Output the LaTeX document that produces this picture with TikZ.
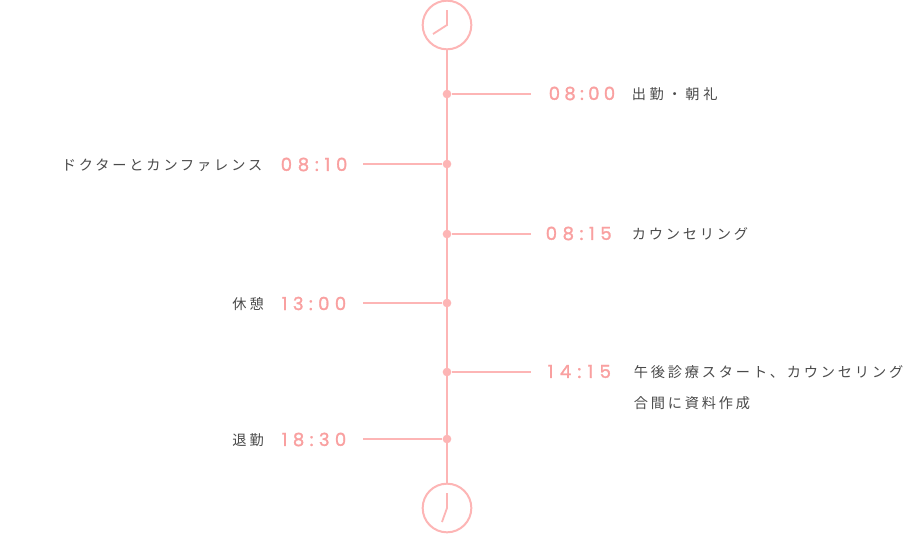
\documentclass[tikz,border=0pt]{standalone}
\usepackage{fontspec}
\newfontfamily\jpfont[LetterSpace=20]{Noto Sans CJK JP}
\newfontfamily\jpwide[LetterSpace=26]{Noto Sans CJK JP}
\definecolor{linepink}{HTML}{FDB5B5}
\definecolor{timepink}{HTML}{F9A0A0}
\definecolor{txtgray}{HTML}{4A4A4A}
\tikzset{
  x=0.75pt,y=-0.75pt,
  conn/.style={draw=linepink,line width=1.5pt},
  clock/.style={circle,draw=linepink,line width=1.5pt,fill=white,minimum size=36.5pt,inner sep=0pt},
  hand/.style={draw=linepink,line width=1.35pt},
  dot/.style={circle,fill=linepink,minimum size=6.5pt,inner sep=0pt},
  timelab/.style={inner sep=0pt,anchor=west,text=timepink,font={\fontspec[LetterSpace=#1,FakeBold=1.6]{Poppins}\fontsize{13.5pt}{14pt}\selectfont}},
  txtlab/.style={inner sep=0pt,text=txtgray,font={\jpfont\fontsize{10.65pt}{13pt}\selectfont}},
}
\begin{document}
\begin{tikzpicture}
\useasboundingbox (0,0) rectangle (904,533);
\node[clock] (top) at (447,25) {};
\node[clock] (bot) at (447,508) {};
\foreach \n/\y in {a/94,b/164,c/234,d/303,e/372,f/439}{\node[dot] (\n) at (447,\y) {};}
\coordinate (ra) at (531,94);
\coordinate (lb) at (363,164);
\coordinate (rc) at (531,234);
\coordinate (ld) at (363,303);
\coordinate (re) at (531,372);
\coordinate (lf) at (363,439);
\draw[conn] (top) -- (bot);
\draw[conn] (a) -- (ra);
\draw[conn] (b) -- (lb);
\draw[conn] (c) -- (rc);
\draw[conn] (d) -- (ld);
\draw[conn] (e) -- (re);
\draw[conn] (f) -- (lf);
\coordinate (h1) at (447,25);
\coordinate (h1a) at (447,10);
\coordinate (h1b) at (433,34);
\draw[hand] (h1a) -- (h1) -- (h1b);
\coordinate (h2) at (447,508);
\coordinate (h2a) at (447,493);
\coordinate (h2b) at (442,522);
\draw[hand] (h2a) -- (h2) -- (h2b);
\node[timelab=24] (t1) at (548.5,93.5) {08:00};
\node[txtlab,anchor=west,font={\jpwide\fontsize{10.65pt}{13pt}\selectfont}] (x1) at (631.5,94) {出勤・朝礼};
\node[timelab=32] (t2) at (280.5,164.5) {08:10};
\node[txtlab,anchor=east] (x2) at (262.5,165.5) {ドクターとカンファレンス};
\node[timelab=31] (t3) at (545.5,233.5) {08:15};
\node[txtlab,anchor=west] (x3) at (631.5,234) {カウンセリング};
\node[timelab=30] (t4) at (281.5,303.5) {13:00};
\node[txtlab,anchor=east] (x4) at (264,304.5) {休憩};
\node[timelab=35] (t5) at (547.5,371.5) {14:15};
\node[txtlab,anchor=west] (x5) at (633.5,372.5) {午後診療スタート、カウンセリング};
\node[txtlab,anchor=west] (x6) at (633.5,403) {合間に資料作成};
\node[timelab=30] (t6) at (281.5,439.5) {18:30};
\node[txtlab,anchor=east] (x7) at (264,440.5) {退勤};
\end{tikzpicture}
\end{document}
